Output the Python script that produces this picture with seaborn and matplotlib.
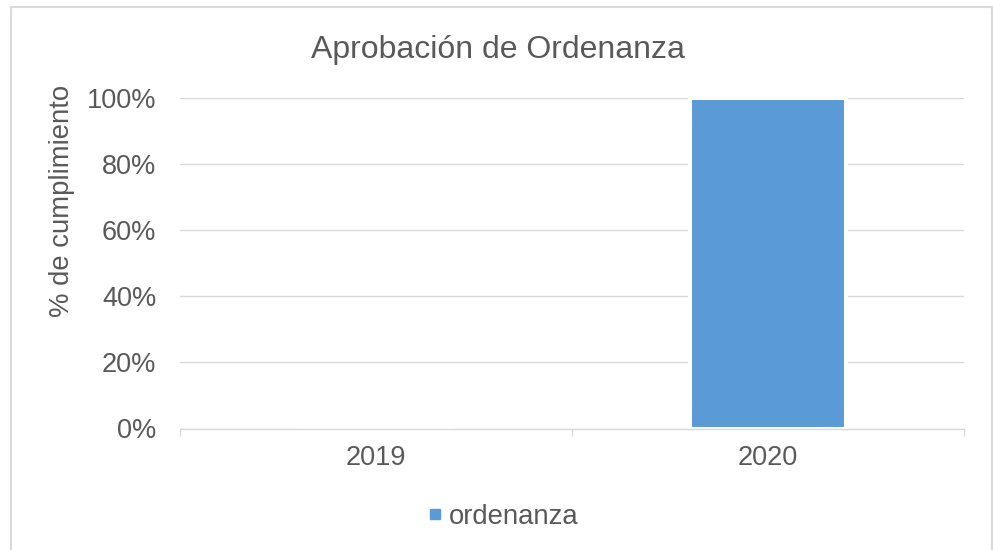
import pandas as pd
import seaborn as sns
import matplotlib.pyplot as plt
from matplotlib.lines import Line2D
from matplotlib.patches import Rectangle
from matplotlib.ticker import PercentFormatter, FixedLocator

# Datos del gráfico
anios = ["2019", "2020"]
cumplimiento = [0.0, 1.0]
serie = "ordenanza"
titulo = "Aprobación de Ordenanza"
eje_y = "% de cumplimiento"

df = pd.DataFrame({"anio": anios, "valor": cumplimiento})

sns.set_theme(style="white")
plt.rcParams['font.family'] = ['Liberation Sans', 'DejaVu Sans']

GRIS_TXT = "#595959"
GRIS_LINEA = "#d9d9d9"
AZUL = "#5b9bd5"

fig = plt.figure(figsize=(9.93, 5.5), dpi=100)
ax = fig.add_axes([180 / 993, 1 - 428.5 / 550, 784 / 993, 330.5 / 550])

sns.barplot(data=df, x="anio", y="valor", order=anios, color=AZUL,
            width=0.4, edgecolor="white", linewidth=2.9, errorbar=None,
            saturation=1, ax=ax)

ax.set_xlim(-0.5, 1.5)
ax.set_ylim(0, 1)
ax.set_yticks([0, 0.2, 0.4, 0.6, 0.8, 1.0])
ax.yaxis.set_major_formatter(PercentFormatter(1.0, decimals=0))
ax.set_axisbelow(True)
ax.grid(axis="y", color=GRIS_LINEA, linewidth=1.0)
ax.grid(axis="x", visible=False)

for lado in ["top", "right", "left"]:
    ax.spines[lado].set_visible(False)
ax.spines["bottom"].set_color(GRIS_LINEA)
ax.spines["bottom"].set_linewidth(1.0)
ax.spines["bottom"].set_zorder(5)

# marcas en los límites de las categorías
ax.xaxis.set_minor_locator(FixedLocator([-0.5, 0.5, 1.5]))
ax.tick_params(axis="x", which="minor", length=5, width=1, color=GRIS_LINEA, direction="out", bottom=True)
ax.tick_params(axis="x", which="major", length=0, pad=12, labelsize=19.5, labelcolor=GRIS_TXT)
ax.tick_params(axis="y", length=0, pad=17, labelsize=19.5, labelcolor=GRIS_TXT)

ax.set_xlabel("")
ax.set_ylabel(eje_y, fontsize=19.8, color=GRIS_TXT, va="center")
ax.yaxis.set_label_coords((62 - 180) / 784, (428.5 - 201) / 330.5)

fig.text(498 / 993, 1 - 58 / 550, titulo, ha="center", va="baseline",
         fontsize=23, color=GRIS_TXT)

handle = Line2D([], [], marker="s", linestyle="none", markersize=7.2,
                markerfacecolor=AZUL, markeredgecolor=AZUL)
fig.legend([handle], [serie], loc="center", bbox_to_anchor=(503 / 993, 1 - 517 / 550),
           frameon=False, fontsize=19.8, labelcolor=GRIS_TXT,
           handlelength=0.6, handletextpad=0.2, borderpad=0)

# borde del área del gráfico
fig.patches.append(Rectangle((11 / 993, -0.02), (992 - 11) / 993, 1 - 7 / 550 + 0.02,
                             transform=fig.transFigure, fill=False,
                             edgecolor=GRIS_LINEA, linewidth=1.5))

fig.savefig("out.png", dpi=100)
